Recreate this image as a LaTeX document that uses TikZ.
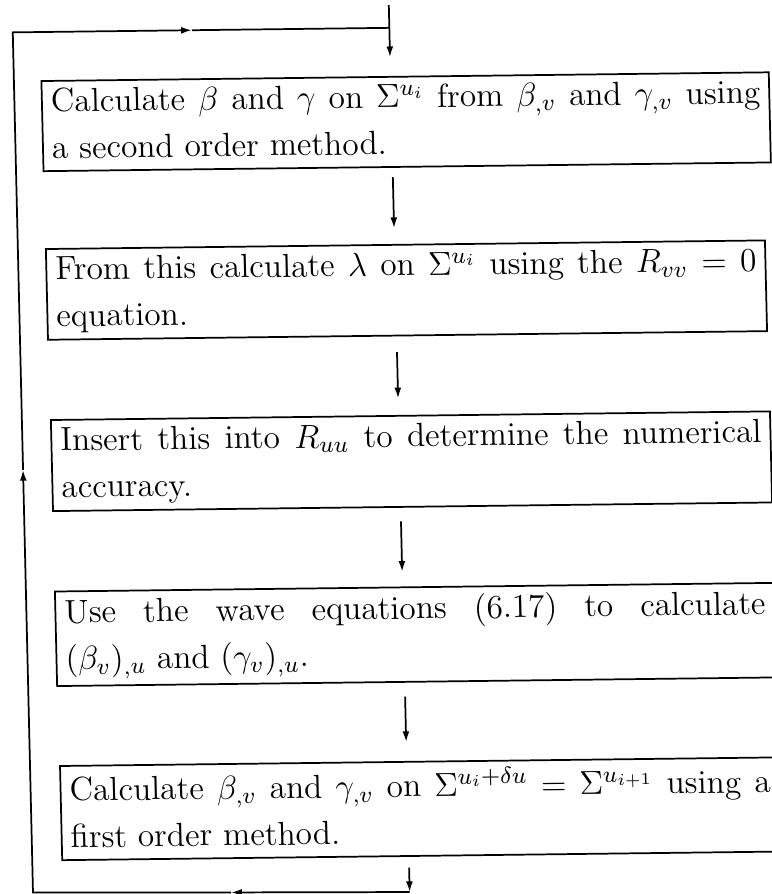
\RequirePackage{fix-cm}
\documentclass[tikz,border=0pt]{standalone}
\usetikzlibrary{arrows.meta,calc}
\tikzset{
  stepbox/.style={draw, line width=0.65pt, anchor=north west, outer sep=0pt,
    inner xsep=3.375pt, inner ysep=2.5pt, text width=262.9pt, align=justify,
    font=\fontsize{12.5}{17.5}\selectfont},
  link/.style={line width=0.65pt},
  arr/.style={link, -{Latex[length=4pt,width=2.6pt]}},
}
\newcommand\topstrutx{\rule{0pt}{9.1pt}}
\newcommand\botstrutx{\rule[-2.2pt]{0pt}{2.2pt}}
\begin{document}
\begin{tikzpicture}[x=0.375pt,y=-0.375pt]
\useasboundingbox (0,0) rectangle (772,894);
\clip (0,0) rectangle (772,894);
\begin{scope}[cm={1,0.012,-0.0235,1,(0,0)}, every node/.append style={transform shape}]
  \node[stepbox, text width=266pt] (b1) at (39.5,81.5) {\noindent\topstrutx Calculate $\beta$ and $\gamma$ on $\Sigma^{u_i}$ from $\beta_{,v}$ and $\gamma_{,v}$ using\linebreak a second order method.\botstrutx};
  \node[stepbox] (b2) at (40,249.5) {\noindent\topstrutx From this calculate $\lambda$ on $\Sigma^{u_i}$ using the $R_{vv}=0$\linebreak equation.\botstrutx};
  \node[stepbox] (b3) at (41,420.5) {\noindent\topstrutx Insert this into $R_{uu}$ to determine the numerical\linebreak accuracy.\botstrutx};
  \node[stepbox] (b4) at (41,592) {\noindent\topstrutx Use the wave equations (6.17) to calculate\linebreak $(\beta_v)_{,u}$ and $(\gamma_v)_{,u}$.\botstrutx};
  \node[stepbox] (b5) at (42,766.5) {\noindent\topstrutx Calculate $\beta_{,v}$ and $\gamma_{,v}$ on $\Sigma^{u_i+\delta u}=\Sigma^{u_{i+1}}$ using a\linebreak first order method.\botstrutx};

  \coordinate (in) at (388.5,9.7);
  \coordinate (tj) at (388.5,32.5);
  \coordinate (tm) at (191,32.5);
  \coordinate (lt) at (12,32.5);
  \coordinate (lm) at (12,470);
  \coordinate (lb) at (12,892.4);
  \coordinate (bj) at (388.5,896.5);
  \coordinate (bm) at ($(bj)!0.474!(lb)$);

  \draw[arr, shorten >=7.4pt] (in) -- ($(b1.north west)!0.4798!(b1.north east)$);
  \draw[arr, shorten <=3.8pt, shorten >=6.3pt] ($(b1.south west)!0.4798!(b1.south east)$) -- ($(b2.north west)!0.4847!(b2.north east)$);
  \draw[arr, shorten <=6.2pt, shorten >=6.6pt] ($(b2.south west)!0.4847!(b2.south east)$) -- ($(b3.north west)!0.4833!(b3.north east)$);
  \draw[arr, shorten <=5.4pt, shorten >=5.9pt] ($(b3.south west)!0.4833!(b3.south east)$) -- ($(b4.north west)!0.4833!(b4.north east)$);
  \draw[arr, shorten <=5.5pt, shorten >=7.5pt] ($(b4.south west)!0.4833!(b4.south east)$) -- ($(b5.north west)!0.4819!(b5.north east)$);
  \draw[arr, shorten <=4.3pt] ($(b5.south west)!0.4819!(b5.south east)$) -- (bj);

  \draw[arr] (bj) -- (bm);
  \draw[arr] (bm) -- (lb) -- (lm);
  \draw[arr] (lm) -- (lt) -- (tm);
  \draw[link] (tm) -- (tj);
\end{scope}
\end{tikzpicture}
\end{document}
